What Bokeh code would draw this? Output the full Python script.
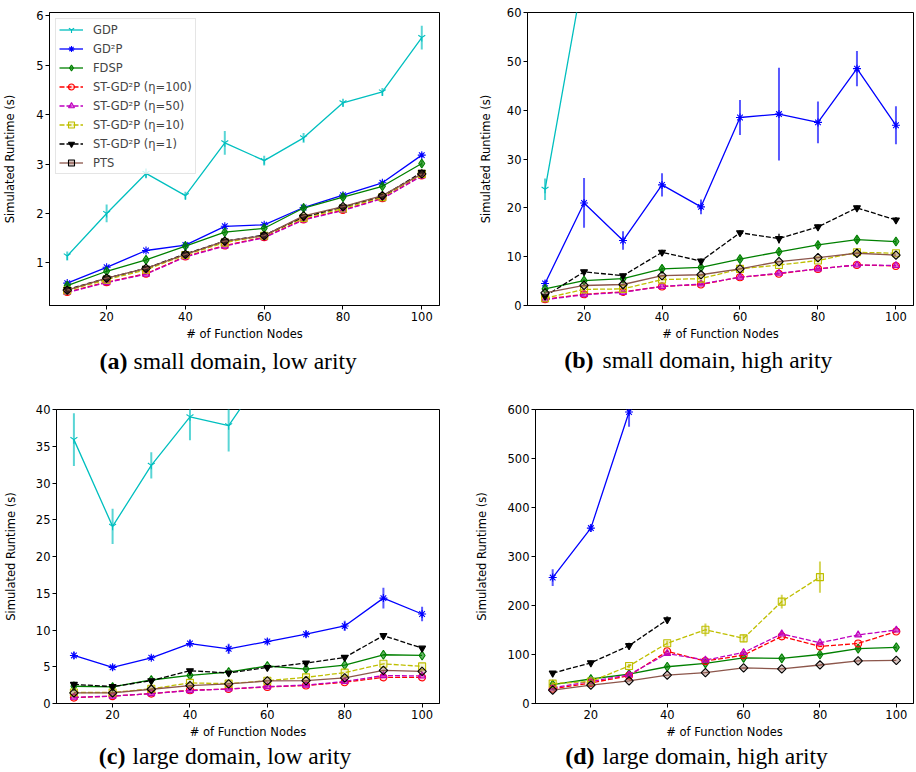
import numpy as np
from bokeh.plotting import figure
from bokeh.layouts import column, row
from bokeh.models import Range1d, FixedTicker, Legend, LegendItem
from bokeh.core.properties import value
from bokeh.embed import file_html
from bokeh.resources import INLINE

# ---------------- data ----------------
NODES = [10, 20, 30, 40, 50, 60, 70, 80, 90, 100]
X_TICKS = [20, 40, 60, 80, 100]

SERIES_NAMES = ["GDP", "GD²P", "FDSP", "ST-GD²P (η=100)", "ST-GD²P (η=50)",
                "ST-GD²P (η=10)", "ST-GD²P (η=1)", "PTS"]

# (a) small domain, low arity
A_GDP = [1.14, 2.00, 2.81, 2.36, 3.43, 3.07, 3.53, 4.24, 4.46, 5.56]
A_GDP_ERR = [0.09, 0.18, 0.10, 0.08, 0.24, 0.10, 0.10, 0.08, 0.08, 0.24]
A_GD2P = [0.59, 0.91, 1.25, 1.36, 1.74, 1.77, 2.12, 2.37, 2.62, 3.18]
A_GD2P_ERR = [0.03, 0.03, 0.03, 0.03, 0.04, 0.04, 0.04, 0.04, 0.04, 0.05]
A_FDSP = [0.54, 0.83, 1.06, 1.34, 1.62, 1.70, 2.11, 2.33, 2.55, 3.01]
A_FDSP_ERR = [0.04, 0.04, 0.04, 0.04, 0.05, 0.05, 0.05, 0.05, 0.05, 0.06]
A_ST100 = [0.41, 0.61, 0.78, 1.13, 1.35, 1.52, 1.88, 2.07, 2.31, 2.77]
A_ST50 = [0.40, 0.60, 0.77, 1.12, 1.34, 1.51, 1.87, 2.06, 2.30, 2.76]
A_ST10 = [0.44, 0.66, 0.86, 1.16, 1.41, 1.55, 1.91, 2.10, 2.33, 2.80]
A_ST1 = [0.46, 0.69, 0.89, 1.18, 1.44, 1.56, 1.93, 2.13, 2.35, 2.83]
A_PTS = [0.45, 0.69, 0.89, 1.17, 1.44, 1.55, 1.95, 2.14, 2.36, 2.80]
A_YTICKS = [1, 2, 3, 4, 5, 6]
A_YRANGE = (0.137, 6.067)

# (b) small domain, high arity
B_GDP = [23.8, 68.5, 95.0, 118.0, 140.0, 166.0, 185.0, 210.0, 236.0, 255.0]
B_GDP_ERR = [2.2, 4.0, 5.0, 6.0, 7.0, 8.0, 9.0, 10.0, 11.0, 12.0]
B_GD2P = [4.5, 21.0, 13.3, 24.7, 20.2, 38.5, 39.2, 37.5, 48.5, 36.9]
B_GD2P_ERR = [0.6, 5.1, 1.9, 2.4, 1.5, 3.6, 9.5, 4.3, 3.6, 3.9]
B_FDSP = [3.4, 5.1, 5.5, 7.5, 7.8, 9.5, 11.0, 12.4, 13.5, 13.1]
B_FDSP_ERR = [0.3, 0.4, 0.4, 0.5, 0.4, 0.5, 0.6, 0.6, 0.7, 0.6]
B_ST100 = [1.3, 2.3, 2.8, 3.9, 4.3, 5.8, 6.5, 7.5, 8.3, 8.1]
B_ST50 = [1.2, 2.2, 2.7, 3.9, 4.4, 5.8, 6.6, 7.5, 8.3, 8.2]
B_ST10 = [1.5, 3.3, 3.4, 5.3, 5.5, 7.5, 8.3, 9.2, 10.9, 10.7]
B_ST1 = [1.9, 6.9, 6.1, 10.9, 9.1, 14.9, 13.7, 16.1, 20.0, 17.5]
B_ST1_ERR = [0.3, 0.4, 0.4, 0.5, 0.5, 0.5, 1.0, 0.5, 0.5, 0.6]
B_PTS = [2.6, 4.1, 4.3, 6.1, 6.3, 7.5, 9.0, 9.8, 10.7, 10.3]
B_YTICKS = [0, 10, 20, 30, 40, 50, 60]
B_YRANGE = (0, 60)

# (c) large domain, low arity
C_GDP = [35.9, 24.1, 32.4, 39.0, 37.8, 45.5, 49.0, 53.0, 57.0, 60.0]
C_GDP_ERR = [3.6, 2.4, 1.8, 3.2, 3.5, 3.5, 4.0, 4.0, 4.0, 4.0]
C_GD2P = [6.54, 4.92, 6.22, 8.16, 7.44, 8.43, 9.43, 10.55, 14.34, 12.18]
C_GD2P_ERR = [0.5, 0.4, 0.3, 0.5, 0.7, 0.4, 0.5, 0.7, 1.4, 1.0]
C_FDSP = [2.35, 2.25, 3.20, 3.83, 4.28, 5.10, 4.69, 5.23, 6.63, 6.54]
C_ST100 = [0.80, 1.00, 1.35, 1.80, 1.98, 2.25, 2.44, 2.90, 3.56, 3.56]
C_ST50 = [0.85, 1.00, 1.35, 1.75, 1.98, 2.30, 2.50, 3.00, 3.80, 3.75]
C_ST10 = [1.50, 1.50, 2.00, 2.80, 2.70, 3.10, 3.56, 4.20, 5.40, 5.05]
C_ST1 = [2.60, 2.30, 3.10, 4.46, 4.15, 4.90, 5.50, 6.27, 9.24, 7.53]
C_PTS = [1.44, 1.44, 1.94, 2.44, 2.66, 3.07, 3.10, 3.50, 4.50, 4.37]
C_YTICKS = [0, 5, 10, 15, 20, 25, 30, 35, 40]
C_YRANGE = (0, 40)

# (d) large domain, high arity (missing runs are simply absent)
D_GDP = []
D_GD2P = [257.0, 358.0, 595.0]
D_GD2P_ERR = [17.0, 8.0, 30.0]
D_FDSP = [38.6, 50.0, 60.0, 75.0, 82.0, 93.0, 92.0, 100.0, 112.0, 114.5]
D_FDSP_ERR = [3.0, 3.0, 3.0, 3.0, 3.0, 3.0, 3.0, 4.0, 4.0, 4.0]
D_ST100 = [30.0, 42.0, 56.6, 106.5, 86.6, 98.6, 137.0, 116.5, 122.5, 147.0]
D_ST50 = [32.0, 45.0, 58.6, 102.0, 88.6, 104.0, 142.0, 124.0, 140.0, 150.0]
D_ST10 = [40.6, 45.0, 76.6, 123.0, 150.5, 133.0, 208.0, 258.0]
D_ST10_ERR = [3.0, 3.0, 4.0, 5.0, 13.0, 8.0, 14.0, 32.0]
D_ST1 = [62.0, 83.0, 118.0, 171.0]
D_ST1_ERR = [4.0, 5.0, 6.0, 7.0]
D_PTS = [27.3, 37.3, 46.0, 58.0, 63.0, 72.6, 70.6, 78.6, 87.0, 88.0]
D_YTICKS = [0, 100, 200, 300, 400, 500, 600]
D_YRANGE = (0, 600)

CAPTIONS = [("(a)", "small domain, low arity"), ("(b)", "small domain, high arity"),
            ("(c)", "large domain, low arity"), ("(d)", "large domain, high arity")]

# ---------------- styles ----------------
STYLES = [
    dict(color="#00bfbf", dash="solid", marker="y", size=8, fill_alpha=1.0, edge=None, angle=0.0),
    dict(color="#0000ff", dash="solid", marker="asterisk", size=8, fill_alpha=1.0, edge=None, angle=0.0),
    dict(color="#008000", dash="solid", marker="diamond", size=9, fill_alpha=0.6, edge=None, angle=0.0),
    dict(color="#ff0000", dash="5 2", marker="circle", size=7, fill_alpha=0.15, edge=None, angle=0.0),
    dict(color="#bf00bf", dash="5 2", marker="triangle", size=7, fill_alpha=0.5, edge=None, angle=0.0),
    dict(color="#bfbf00", dash="5 2", marker="square", size=7, fill_alpha=0.15, edge=None, angle=0.0),
    dict(color="#000000", dash="5 2", marker="inverted_triangle", size=7, fill_alpha=1.0, edge=None, angle=0.0),
    dict(color="#8c564b", dash="solid", marker="square", size=6, fill_alpha=0.35, edge="#000000", angle=np.pi / 4),
]

TICK_FONT = "DejaVu Sans"
FS = "11.5px"


def make_panel(width, height, mbl, mbr, mbt, mbb, yrange, yticks, lab_standoff):
    p = figure(width=width, height=height, x_range=Range1d(5.5, 104.5),
               y_range=Range1d(*yrange), output_backend="svg", toolbar_location=None,
               min_border_left=mbl, min_border_right=mbr, min_border_top=mbt,
               min_border_bottom=mbb, background_fill_color="white",
               border_fill_color="white")
    p.grid.visible = False
    p.outline_line_color = "black"
    p.outline_line_width = 1
    p.outline_line_alpha = 1.0
    p.xaxis.ticker = FixedTicker(ticks=X_TICKS)
    p.yaxis.ticker = FixedTicker(ticks=yticks)
    p.xaxis.axis_label = "# of Function Nodes"
    p.yaxis.axis_label = "Simulated Runtime (s)"
    for ax in (p.xaxis, p.yaxis):
        ax.axis_line_color = "black"
        ax.major_tick_line_color = "black"
        ax.major_tick_out = 4
        ax.major_tick_in = 0
        ax.minor_tick_line_color = None
        ax.major_label_text_font = TICK_FONT
        ax.major_label_text_font_size = FS
        ax.major_label_text_color = "black"
        ax.axis_label_text_font = TICK_FONT
        ax.axis_label_text_font_size = FS
        ax.axis_label_text_font_style = "normal"
        ax.axis_label_text_color = "black"
    p.xaxis.major_label_standoff = 2
    p.yaxis.major_label_standoff = 2
    p.xaxis.axis_label_standoff = 3
    p.yaxis.axis_label_standoff = lab_standoff
    return p


def draw_series(p, vals, errs, st):
    if len(vals) == 0:
        return None
    xs = np.array(NODES[:len(vals)], dtype=float)
    ys = np.array(vals, dtype=float)
    rs = []
    rs.append(p.line(xs, ys, line_color=st["color"], line_width=1.3, line_dash=st["dash"]))
    if errs is not None:
        e = np.array(errs, dtype=float)
        p.segment(x0=xs, y0=ys - e, x1=xs, y1=ys + e, line_color=st["color"],
                  line_width=2, line_alpha=0.65)
    edge = st["edge"] if st["edge"] else st["color"]
    rs.append(p.scatter(xs, ys, marker=st["marker"], size=st["size"], angle=st["angle"],
                        line_color=edge, line_width=1.1, fill_color=st["color"],
                        fill_alpha=st["fill_alpha"]))
    return rs


def make_caption(width, height, tag, text, tag_right, text_left, baseline):
    c = figure(width=width, height=height, x_range=Range1d(0, width), y_range=Range1d(0, height),
               output_backend="svg", toolbar_location=None, min_border=0,
               x_axis_location=None, y_axis_location=None)
    c.grid.visible = False
    c.outline_line_color = None
    c.text(x=[tag_right], y=[baseline], text=[tag], text_align="right",
           text_baseline="alphabetic", text_font=value("Liberation Serif"),
           text_font_style="bold", text_font_size="24px", text_color="black")
    c.text(x=[text_left], y=[baseline], text=[text], text_align="left",
           text_baseline="alphabetic", text_font=value("Liberation Serif"),
           text_font_style="normal", text_font_size="23.5px", text_color="black")
    return c


# ---------------- panels (page has no margin: Bokeh's template sets it to 0) ----------------
pa = make_panel(470, 343, 44, 31, 12, 38, A_YRANGE, A_YTICKS, 16)
pb = make_panel(446, 343, 57, 3, 4, 38, B_YRANGE, B_YTICKS, 11)
pc = make_panel(470, 363, 51, 31, 31, 36, C_YRANGE, C_YTICKS, 15)
pd_ = make_panel(446, 363, 65, 3, 26, 37, D_YRANGE, D_YTICKS, 16)

A_DATA = [(A_GDP, A_GDP_ERR), (A_GD2P, A_GD2P_ERR), (A_FDSP, A_FDSP_ERR), (A_ST100, None),
          (A_ST50, None), (A_ST10, None), (A_ST1, None), (A_PTS, None)]
B_DATA = [(B_GDP, B_GDP_ERR), (B_GD2P, B_GD2P_ERR), (B_FDSP, B_FDSP_ERR), (B_ST100, None),
          (B_ST50, None), (B_ST10, None), (B_ST1, B_ST1_ERR), (B_PTS, None)]
C_DATA = [(C_GDP, C_GDP_ERR), (C_GD2P, C_GD2P_ERR), (C_FDSP, None), (C_ST100, None),
          (C_ST50, None), (C_ST10, None), (C_ST1, None), (C_PTS, None)]
D_DATA = [(D_GDP, None), (D_GD2P, D_GD2P_ERR), (D_FDSP, D_FDSP_ERR), (D_ST100, None),
          (D_ST50, None), (D_ST10, D_ST10_ERR), (D_ST1, D_ST1_ERR), (D_PTS, None)]

legend_items = []
for i, (vals, errs) in enumerate(A_DATA):
    rs = draw_series(pa, vals, errs, STYLES[i])
    legend_items.append(LegendItem(label=SERIES_NAMES[i], renderers=rs))
for panel, data in ((pb, B_DATA), (pc, C_DATA), (pd_, D_DATA)):
    for i, (vals, errs) in enumerate(data):
        draw_series(panel, vals, errs, STYLES[i])

legend = Legend(items=legend_items, location="top_left", margin=6, padding=3,
                spacing=4, glyph_width=24, glyph_height=15, label_height=15,
                label_standoff=10, label_text_font=TICK_FONT, label_text_font_size=FS,
                border_line_color="#cccccc", border_line_width=1,
                background_fill_color="white", background_fill_alpha=0.8)
pa.add_layout(legend)

ca = make_caption(470, 35, CAPTIONS[0][0], CAPTIONS[0][1], 127, 133, 18)
cb = make_caption(446, 35, CAPTIONS[1][0], CAPTIONS[1][1], 123, 132, 19)
cc = make_caption(470, 31, CAPTIONS[2][0], CAPTIONS[2][1], 125, 132, 17)
cd = make_caption(446, 31, CAPTIONS[3][0], CAPTIONS[3][1], 124, 132, 17)

layout = column(row(pa, pb), row(ca, cb), row(pc, pd_), row(cc, cd))

open("out.html", "w").write(file_html(layout, INLINE))
